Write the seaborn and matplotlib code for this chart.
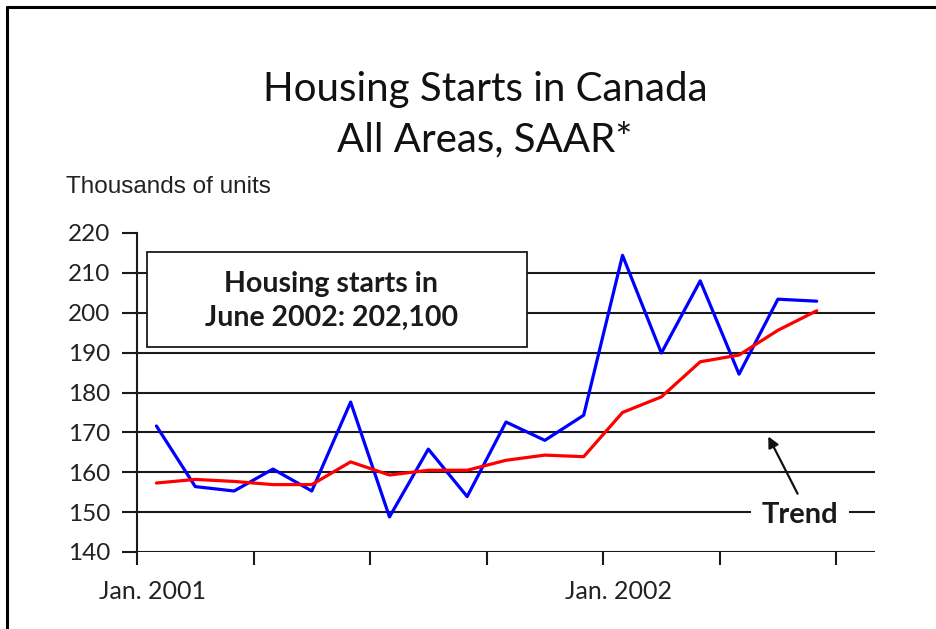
import matplotlib
matplotlib.use("Agg")
import matplotlib.pyplot as plt
import pandas as pd
import seaborn as sns
from matplotlib.patches import Rectangle
from matplotlib.lines import Line2D

# monthly values, Jan. 2001 .. June 2002 (thousands of units, SAAR)
months = list(range(18))
starts = [171.6, 156.4, 155.3, 160.8, 155.3, 177.6, 148.8, 165.8, 153.9,
          172.6, 168.0, 174.3, 214.4, 189.9, 208.0, 184.6, 203.4, 202.9]
trend = [157.3, 158.2, 157.7, 156.9, 156.9, 162.6, 159.3, 160.5, 160.5,
         163.0, 164.3, 163.9, 175.0, 178.9, 187.7, 189.4, 195.6, 200.5]
y_ticks = [140, 150, 160, 170, 180, 190, 200, 210, 220]
x_labels = ["Jan. 2001", "Jan. 2002"]

frame = pd.DataFrame({
    "month": [m + 0.5 for m in months] * 2,
    "value": starts + trend,
    "series": ["Starts"] * len(starts) + ["Trend"] * len(trend),
})

sns.set_style("white")
plt.rcParams["font.family"] = ["Lato", "DejaVu Sans"]

fig = plt.figure(figsize=(9.36, 6.29), dpi=100)
ax = fig.add_axes([137 / 936, 1 - 552 / 629, (875 - 137) / 936, (552 - 233) / 629])

# grid lines 140..210 (none at 220)
for v in y_ticks[:-1]:
    ax.axhline(v, color="#1a1a1a", lw=1.5, zorder=1)

sns.lineplot(data=frame, x="month", y="value", hue="series",
             palette={"Starts": "#0000ff", "Trend": "#ff0000"},
             linewidth=2.3, legend=False, ax=ax, zorder=3)

ax.set_xlim(0, 19)
ax.set_ylim(140, 220)
ax.set_yticks(y_ticks)
ax.set_yticklabels([str(v) for v in y_ticks], fontsize=17.5, color="#222")
ax.set_xticks(range(0, 19, 3))
ax.set_xticklabels([])
ax.tick_params(axis="y", direction="out", length=11, width=1.5, color="#1a1a1a", pad=8, left=True)
ax.tick_params(axis="x", direction="out", length=9, width=1.5, color="#1a1a1a", bottom=True)
for side in ["top", "right", "bottom"]:
    ax.spines[side].set_visible(False)
ax.spines["left"].set_color("#1a1a1a")
ax.spines["left"].set_linewidth(1.5)
ax.set_xlabel("")
ax.set_ylabel("")

for pos, lab in zip([0.4, 12.4], x_labels):
    ax.text(pos, -0.125, lab, transform=ax.get_xaxis_transform(),
            ha="center", va="center", fontsize=18, color="#222")

# callout box
ax.add_patch(Rectangle((0.25, 191.3), 9.8, 24.0, facecolor="white",
                       edgecolor="#1a1a1a", lw=1.3, zorder=4))
ax.text(5.0, 203.0, "Housing starts in\nJune 2002: 202,100", ha="center", va="center",
        fontsize=20.5, fontweight="bold", color="#1a1a1a", linespacing=1.4, zorder=5)

# trend label and arrow
ax.text(17.07, 149.4, "Trend", ha="center", va="center", fontsize=21, fontweight="bold",
        color="#1a1a1a", zorder=5,
        bbox=dict(facecolor="white", edgecolor="none", pad=8))
ax.annotate("", xy=(16.22, 169.6), xytext=(17.04, 154.0),
            arrowprops=dict(arrowstyle="-|>", color="#111", lw=1.6, mutation_scale=16), zorder=5)

fig.text(485 / 936, 1 - 90 / 629, "Housing Starts in Canada", ha="center", va="center",
         fontsize=29, color="#111")
fig.text(485 / 936, 1 - 140 / 629, "All Areas, SAAR*", ha="center", va="center",
         fontsize=29, color="#111")
fig.text(66 / 936, 1 - 187 / 629, "Thousands of units", ha="left", va="center",
         fontsize=17.5, color="#222", family=["Liberation Sans", "DejaVu Sans"])

# frame: top and left edges only
fig.add_artist(Line2D([7 / 936, 1], [1 - 7 / 629, 1 - 7 / 629], color="black", lw=2.2,
                      transform=fig.transFigure))
fig.add_artist(Line2D([7 / 936, 7 / 936], [0, 1 - 7 / 629], color="black", lw=2.2,
                      transform=fig.transFigure))

fig.savefig("out.png", dpi=100)
